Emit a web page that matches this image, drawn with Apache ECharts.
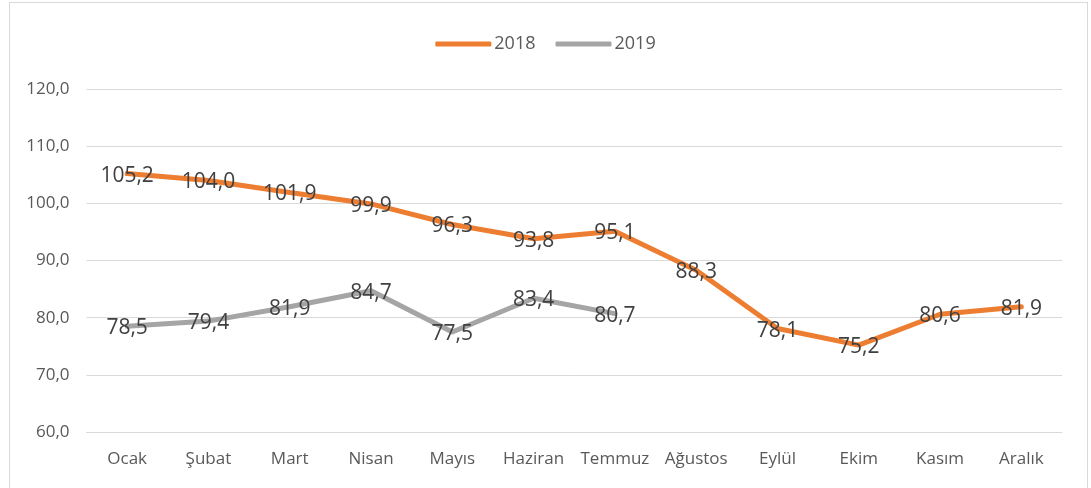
<!DOCTYPE html>
<html>
<head>
<meta charset="utf-8">
<script src="https://cdn.jsdelivr.net/npm/echarts@6/dist/echarts.min.js"></script>
<style>
  html, body { margin: 0; padding: 0; background: #fff; }
  #chart { width: 1091px; height: 488px; }
  .frame {
    position: absolute; left: 9px; top: 2px; width: 1077px; height: 500px;
    border: 1px solid #d9d9d9; pointer-events: none;
  }
</style>
</head>
<body>
<div id="chart"></div>
<div class="frame"></div>
<script>
  var months = ['Ocak', 'Şubat', 'Mart', 'Nisan', 'Mayıs', 'Haziran', 'Temmuz', 'Ağustos', 'Eylül', 'Ekim', 'Kasım', 'Aralık'];
  var values2018 = [105.2, 104.0, 101.9, 99.9, 96.3, 93.8, 95.1, 88.3, 78.1, 75.2, 80.6, 81.9];
  var values2019 = [78.5, 79.4, 81.9, 84.7, 77.5, 83.4, 80.7, null, null, null, null, null];

  function fmt(v) {
    return v.toFixed(1).replace('.', ',');
  }

  function makeSeries(name, data, color) {
    return {
      name: name,
      type: 'line',
      data: data,
      symbol: 'circle',
      symbolSize: 0.1,
      lineStyle: { color: color, width: 5, cap: 'round', join: 'round' },
      itemStyle: { color: color },
      label: {
        show: true,
        position: 'inside',
        offset: [0, 2],
        color: '#404040',
        fontSize: 21,
        fontFamily: 'Open Sans, sans-serif',
        formatter: function (p) { return fmt(p.value); }
      }
    };
  }

  var myChart = echarts.init(document.getElementById('chart'));
  myChart.setOption({
    animation: false,
    textStyle: { fontFamily: 'Open Sans, sans-serif' },
    legend: {
      top: 30,
      left: 'center',
      icon: 'roundRect',
      itemWidth: 56,
      itemHeight: 5,
      itemGap: 20,
      textStyle: { color: '#595959', fontSize: 18, padding: [0, 0, 0, -2] },
      data: ['2018', '2019']
    },
    grid: { left: 86.5, right: 29, top: 89, height: 343 },
    xAxis: {
      type: 'category',
      data: months,
      boundaryGap: true,
      axisLine: { lineStyle: { color: '#d9d9d9' } },
      axisTick: { show: false },
      axisLabel: { color: '#595959', fontSize: 17, margin: 19, interval: 0 }
    },
    yAxis: {
      type: 'value',
      min: 60,
      max: 120,
      interval: 10,
      axisLine: { show: false },
      axisTick: { show: false },
      splitLine: { lineStyle: { color: '#d9d9d9', width: 1 } },
      axisLabel: {
        color: '#595959', fontSize: 17, margin: 17,
        formatter: function (v) { return fmt(v); }
      }
    },
    series: [
      makeSeries('2018', values2018, '#ed7d31'),
      makeSeries('2019', values2019, '#a5a5a5')
    ]
  });
</script>
</body>
</html>
